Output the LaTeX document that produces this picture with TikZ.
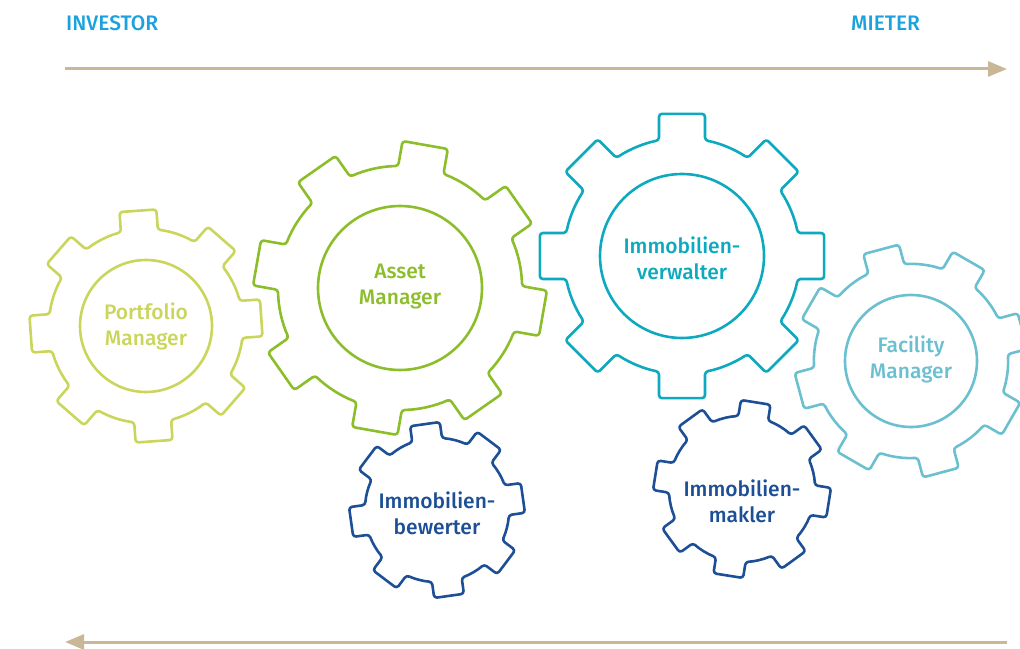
\documentclass[tikz,border=0pt]{standalone}
\usepackage{fontspec}
\setmainfont{Fira Sans}[BoldFont={Fira Sans Medium}]
\usetikzlibrary{arrows.meta}
\definecolor{cPort}{HTML}{C9D65B}
\definecolor{cAsset}{HTML}{8CBD2A}
\definecolor{cVerw}{HTML}{0DA9BF}
\definecolor{cFac}{HTML}{6BC0D0}
\definecolor{cBlue}{HTML}{1C4F95}
\definecolor{cHead}{HTML}{1BA2DC}
\definecolor{cArrow}{HTML}{C8B898}
\newcommand{\mygear}[8]{% cx, cy, n, rot, Rt, Rr, w, colour
 \pgfmathsetmacro\gHt{asin(#7/2/#5)}%
 \pgfmathsetmacro\gHr{asin(#7/2/#6)}%
 \pgfmathsetmacro\gStep{360/#3}%
 \pgfmathtruncatemacro\gLast{#3-2}%
 \begin{scope}[shift={(#1,#2)}]
 \draw[gearline,#8] (#4+\gHt:#5)
  \foreach \k [evaluate=\k as \ga using #4+\k*\gStep, evaluate=\k as \gb using #4+(\k+1)*\gStep] in {0,...,\gLast} {
   -- (\ga+\gHr:#6) arc[start angle=\ga+\gHr, end angle=\gb-\gHr, radius=#6] -- (\gb-\gHt:#5) -- (\gb+\gHt:#5) }
  -- (#4+360-\gStep+\gHr:#6) arc[start angle=#4+360-\gStep+\gHr, end angle=#4+360-\gHr, radius=#6] -- (#4+360-\gHt:#5) -- cycle;
 \end{scope}}
\tikzset{
 gearline/.style={line width=2.6pt, rounded corners=3pt, line join=round},
 hub/.style={circle, draw, line width=2.6pt, inner sep=0pt},
 lbl/.style={align=center, font=\fontsize{21}{26}\selectfont\bfseries},
 head/.style={font=\fontsize{21}{24}\selectfont\bfseries, text=cHead, inner sep=0pt},
 flow/.style={line width=3pt, draw=cArrow, -{Triangle[length=19pt,width=15pt]}}
}
\begin{document}
\begin{tikzpicture}[x=1pt,y=1pt]
\useasboundingbox (0,0) rectangle (1020,648);
\clip (0,0) rectangle (1020,648);
% arrows
\coordinate (tl) at (65,579);
\coordinate (tr) at (1007,579);
\coordinate (bl) at (65,6);
\coordinate (br) at (1007,6);
\draw[flow] (tl) -- (tr);
\draw[flow] (br) -- (bl);
\node[head, anchor=base west] (inv) at (66,617) {INVESTOR};
\node[head, anchor=base west] (mie) at (851,617) {MIETER};
% gears
\mygear{146}{322}{8}{4}{117}{97}{37}{cPort}
\node[hub, draw=cPort, minimum size=132pt] (pm) at (146,322) {};
\node[lbl, text=cPort] (pmt) at (146,322) {Portfolio\\Manager};

\mygear{400}{360}{8}{35}{147}{122}{46}{cAsset}
\node[hub, draw=cAsset, minimum size=164pt] (am) at (400,360) {};
\node[lbl, text=cAsset] (amt) at (400,361) {Asset\\Manager};

\mygear{682}{392}{8}{0}{144}{118}{46}{cVerw}
\node[hub, draw=cVerw, minimum size=164pt] (iv) at (682,392) {};
\node[lbl, text=cVerw] (ivt) at (682,390) {Immobilien-\\verwalter};

\mygear{911}{287}{8}{15}{117}{97}{37}{cFac}
\node[hub, draw=cFac, minimum size=132pt] (fm) at (911,287) {};
\node[lbl, text=cFac] (fmt) at (911,289) {Facility\\Manager};

\mygear{437}{138}{8}{8}{88}{72}{30}{cBlue}
\node[lbl, text=cBlue] (ib) at (437,135) {Immobilien-\\bewerter};

\mygear{742}{159}{8}{36}{89}{73}{30}{cBlue}
\node[lbl, text=cBlue] (im) at (742,147) {Immobilien-\\makler};
\end{tikzpicture}
\end{document}
